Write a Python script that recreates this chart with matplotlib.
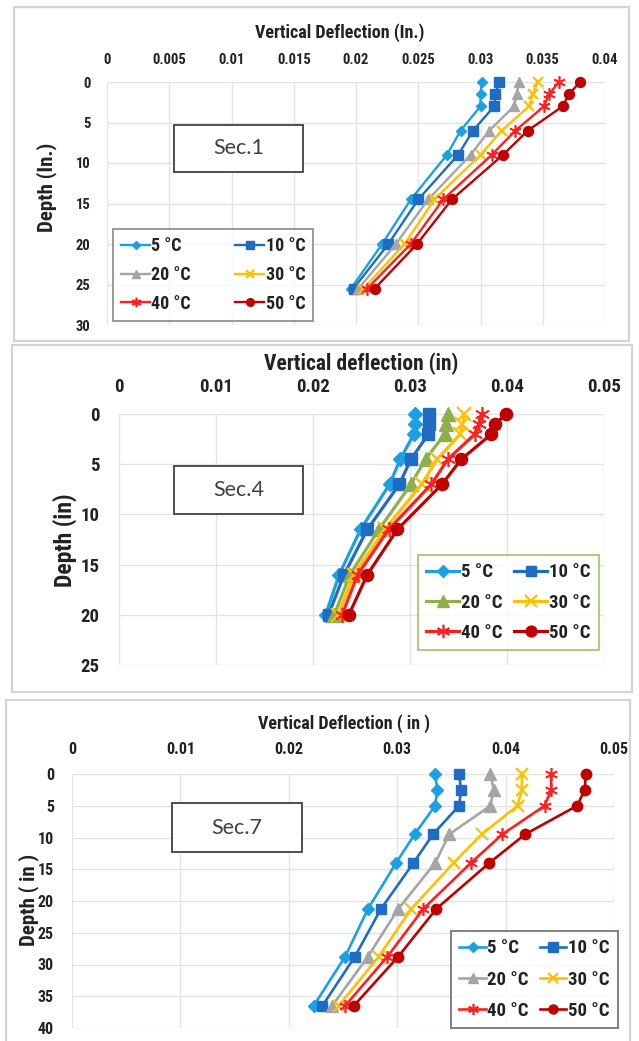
import matplotlib
matplotlib.use("Agg")
import matplotlib.pyplot as plt
from matplotlib import font_manager
from matplotlib.patches import Rectangle
from matplotlib.lines import Line2D

# ---- data -------------------------------------------------------------
temps = ["5 \u00b0C", "10 \u00b0C", "20 \u00b0C", "30 \u00b0C", "40 \u00b0C", "50 \u00b0C"]

sec1_depth = [0, 1.5, 3, 6, 9, 14.5, 20, 25.5]
sec1_5 = [0.0301, 0.0300, 0.0300, 0.0284, 0.0273, 0.0244, 0.0221, 0.0196]
sec1_10 = [0.0315, 0.0312, 0.0311, 0.0294, 0.0282, 0.0250, 0.0226, 0.0198]
sec1_20 = [0.0331, 0.0329, 0.0327, 0.0307, 0.0292, 0.0258, 0.0232, 0.0202]
sec1_30 = [0.0346, 0.0342, 0.0339, 0.0317, 0.0300, 0.0263, 0.0239, 0.0206]
sec1_40 = [0.0363, 0.0355, 0.0351, 0.0328, 0.0309, 0.0270, 0.0244, 0.0209]
sec1_50 = [0.0380, 0.0371, 0.0366, 0.0338, 0.0318, 0.0277, 0.0249, 0.0215]

sec4_depth = [0, 1, 2, 4.5, 7, 11.5, 16, 20]
sec4_5 = [0.0305, 0.0305, 0.0304, 0.0290, 0.0279, 0.0249, 0.0227, 0.0213]
sec4_10 = [0.0320, 0.0320, 0.0319, 0.0301, 0.0289, 0.0256, 0.0232, 0.0216]
sec4_20 = [0.0339, 0.0337, 0.0336, 0.0316, 0.0301, 0.0268, 0.0238, 0.0222]
sec4_30 = [0.0356, 0.0354, 0.0352, 0.0328, 0.0312, 0.0274, 0.0242, 0.0226]
sec4_40 = [0.0374, 0.0371, 0.0367, 0.0339, 0.0322, 0.0278, 0.0246, 0.0230]
sec4_50 = [0.0399, 0.0388, 0.0384, 0.0353, 0.0333, 0.0287, 0.0256, 0.0237]

sec7_depth = [0, 2.5, 5, 9.5, 14, 21.25, 28.75, 36.5]
sec7_5 = [0.0335, 0.0337, 0.0335, 0.0316, 0.0299, 0.0273, 0.0252, 0.0223]
sec7_10 = [0.0357, 0.0359, 0.0357, 0.0333, 0.0315, 0.0285, 0.0261, 0.0231]
sec7_20 = [0.0386, 0.0389, 0.0386, 0.0348, 0.0335, 0.0301, 0.0273, 0.0240]
sec7_30 = [0.0415, 0.0415, 0.0411, 0.0378, 0.0352, 0.0313, 0.0283, 0.0246]
sec7_40 = [0.0442, 0.0442, 0.0436, 0.0397, 0.0368, 0.0324, 0.0291, 0.0252]
sec7_50 = [0.0474, 0.0473, 0.0466, 0.0418, 0.0385, 0.0336, 0.0301, 0.0260]

sec1_xticks = [0, 0.005, 0.01, 0.015, 0.02, 0.025, 0.03, 0.035, 0.04]
sec1_xlabels = ["0", "0.005", "0.01", "0.015", "0.02", "0.025", "0.03", "0.035", "0.04"]
sec4_xticks = [0, 0.01, 0.02, 0.03, 0.04, 0.05]
sec4_xlabels = ["0", "0.01", "0.02", "0.03", "0.04", "0.05"]
sec7_xticks = [0, 0.01, 0.02, 0.03, 0.04, 0.05]
sec7_xlabels = ["0", "0.01", "0.02", "0.03", "0.04", "0.05"]

# ---- fonts: prefer a narrow sans ----------------------------------------
available = {f.name for f in font_manager.fontManager.ttflist}
FONT = next((f for f in ["Liberation Sans Narrow", "Roboto Condensed",
                         "Open Sans Condensed", "DejaVu Sans"]
             if f in available), "DejaVu Sans")
plt.rcParams["font.family"] = [FONT, "DejaVu Sans"]
if FONT == "DejaVu Sans":
    plt.rcParams["font.stretch"] = "condensed"
BOX_FONT = "Lato" if "Lato" in available else FONT

W, H = 639, 1041
fig = plt.figure(figsize=(W / 100, H / 100), dpi=100)
fig.patch.set_facecolor("white")


def fx(px):
    return px / W


def fy(py):
    return 1 - py / H


def frame(x0, y0, x1, y1, color="#d4d4d4", lw=1.6):
    fig.add_artist(Rectangle((fx(x0), fy(y1)), fx(x1) - fx(x0), fy(y0) - fy(y1),
                             transform=fig.transFigure, fill=False,
                             edgecolor=color, linewidth=lw))


def sec_box(x0, y0, x1, y1, label, size):
    fig.add_artist(Rectangle((fx(x0), fy(y1)), fx(x1) - fx(x0), fy(y0) - fy(y1),
                             transform=fig.transFigure, facecolor="white",
                             edgecolor="#404040", linewidth=1.3, zorder=5))
    fig.text(fx((x0 + x1) / 2), fy((y0 + y1) / 2), label, ha="center", va="center",
             fontsize=size, color="#404040", zorder=6, family=[BOX_FONT, "DejaVu Sans"])


def panel(box, xlim, ylim, xticks, xlabels, yticks, depth, series, styles,
          tick_size, ms_scale, lw):
    x0, y0, x1, y1 = box
    ax = fig.add_axes([fx(x0), fy(y1), fx(x1) - fx(x0), fy(y0) - fy(y1)])
    for vals, (color, marker, ms, mew, fc) in zip(series, styles):
        ax.plot(vals, depth, color=color, lw=lw, marker=marker,
                markersize=ms * ms_scale, markerfacecolor=fc,
                markeredgecolor=color, markeredgewidth=mew, zorder=3,
                clip_on=False)
    ax.set_xlim(*xlim)
    ax.set_ylim(ylim[1], ylim[0])
    ax.set_xticks(xticks)
    ax.set_xticklabels(xlabels)
    ax.set_yticks(yticks)
    ax.set_yticklabels([str(t) for t in yticks])
    ax.xaxis.tick_top()
    ax.tick_params(length=0, labelsize=tick_size, labelcolor="#222222")
    for lab in ax.get_xticklabels() + ax.get_yticklabels():
        lab.set_fontweight("bold")
    ax.grid(True, color="#e3e3e3", lw=1.0)
    ax.set_axisbelow(True)
    for s in ax.spines.values():
        s.set_visible(False)
    return ax


def legend(ax, handles_styles, x0, y_top, size, edge, lw, ms_scale, handlelen,
           colsp, labsp):
    handles = []
    for (color, marker, ms, mew, fc), lab in zip(handles_styles, temps):
        handles.append(Line2D([], [], color=color, lw=lw, marker=marker,
                              markersize=ms * ms_scale, markerfacecolor=fc,
                              markeredgecolor=color, markeredgewidth=mew, label=lab))
    order = [0, 2, 4, 1, 3, 5]
    leg = ax.legend([handles[i] for i in order], [temps[i] for i in order],
                    ncol=2, loc="upper left",
                    bbox_to_anchor=(fx(x0), fy(y_top)),
                    bbox_transform=fig.transFigure,
                    prop={"size": size, "weight": "bold"},
                    frameon=True, fancybox=False, edgecolor=edge,
                    handlelength=handlelen, handletextpad=0.08,
                    columnspacing=colsp, labelspacing=labsp, borderpad=0.45,
                    borderaxespad=0)
    leg.get_frame().set_linewidth(1.4)
    for t in leg.get_texts():
        t.set_color("#222222")
    return leg


star = (6, 2, 0)


def styles_for(grey_or_green):
    return [
        ("#1ba1e2", "D", 5.0, 1.0, "#1ba1e2"),
        ("#1f6cc4", "s", 6.5, 1.0, "#1f6cc4"),
        (grey_or_green, "^", 7.0, 1.0, grey_or_green),
        ("#ffc000", "x", 7.0, 1.6, "#ffc000"),
        ("#ff1f1f", star, 8.0, 1.2, "#ff1f1f"),
        ("#c00000", "o", 6.5, 1.0, "#c00000"),
    ]


# ---- panel frames -----------------------------------------------------
frame(14, 7, 629, 341)
frame(12, 345, 632, 692)
frame(6, 700, 630, 1046)

# ---- Sec.1 ------------------------------------------------------------
st1 = styles_for("#a5a5a5")
ax1 = panel((107, 82, 605, 325), (0, 0.04), (0, 30), sec1_xticks, sec1_xlabels,
            [0, 5, 10, 15, 20, 25, 30], sec1_depth,
            [sec1_5, sec1_10, sec1_20, sec1_30, sec1_40, sec1_50], st1,
            tick_size=10.5, ms_scale=1.1, lw=1.7)
ax1.tick_params(axis="x", pad=10.5)
ax1.tick_params(axis="y", pad=12)
fig.text(fx(340), fy(33), "Vertical Deflection (In.)", ha="center", va="center",
         fontsize=13, fontweight="bold", color="#222222")
fig.text(fx(47), fy(187), "Depth (In.)", ha="center", va="center", rotation=90,
         fontsize=15, fontweight="bold", color="#222222")
sec_box(174, 125, 303, 172, "Sec.1", 15.5)
legend(ax1, st1, 113, 229, 13, "#808080", 1.7, 0.85, 1.6, 2.45, 0.6)

# ---- Sec.4 ------------------------------------------------------------
st4 = styles_for("#8db04a")
ax2 = panel((119, 414, 604, 665), (0, 0.05), (0, 25), sec4_xticks, sec4_xlabels,
            [0, 5, 10, 15, 20, 25], sec4_depth,
            [sec4_5, sec4_10, sec4_20, sec4_30, sec4_40, sec4_50], st4,
            tick_size=13.5, ms_scale=1.35, lw=2.3)
ax2.tick_params(axis="x", pad=13)
ax2.tick_params(axis="y", pad=14)
fig.text(fx(361), fy(364), "Vertical deflection (in)", ha="center", va="center",
         fontsize=15.5, fontweight="bold", color="#222222")
fig.text(fx(65), fy(540), "Depth (in)", ha="center", va="center", rotation=90,
         fontsize=17, fontweight="bold", color="#222222")
sec_box(174, 466, 303, 514, "Sec.4", 15.5)
legend(ax2, st4, 418, 555, 13.5, "#9bbb59", 2.3, 1.2, 1.75, 0.65, 0.65)

# ---- Sec.7 ------------------------------------------------------------
st7 = styles_for("#a5a5a5")
ax3 = panel((72, 774, 614, 1028), (0, 0.05), (0, 40), sec7_xticks, sec7_xlabels,
            [0, 5, 10, 15, 20, 25, 30, 35, 40], sec7_depth,
            [sec7_5, sec7_10, sec7_20, sec7_30, sec7_40, sec7_50], st7,
            tick_size=11.5, ms_scale=1.15, lw=1.9)
ax3.tick_params(axis="x", pad=12)
ax3.tick_params(axis="y", pad=13)
fig.text(fx(344), fy(724), "Vertical Deflection ( in )", ha="center", va="center",
         fontsize=13, fontweight="bold", color="#222222")
fig.text(fx(29), fy(900), "Depth ( in )", ha="center", va="center", rotation=90,
         fontsize=15, fontweight="bold", color="#222222")
sec_box(172, 803, 302, 852, "Sec.7", 15.5)
legend(ax3, st7, 451, 931, 13.5, "#606060", 1.9, 1.0, 1.4, 0.6, 0.7)

fig.savefig("out.png", dpi=100, facecolor="white")
